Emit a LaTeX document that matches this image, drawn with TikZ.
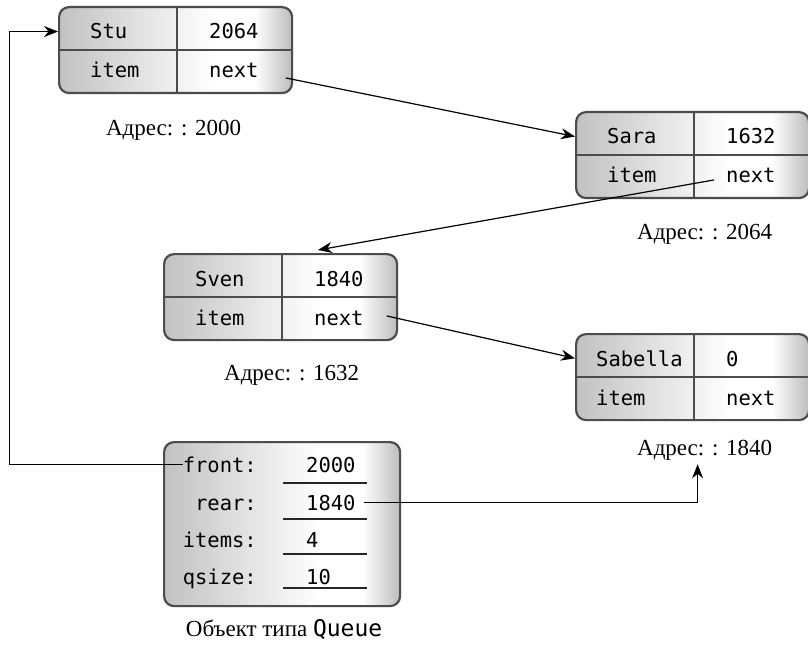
\documentclass[tikz,border=0pt]{standalone}
\usepackage{fontspec}
\setmainfont{Liberation Serif}
\setmonofont{DejaVu Sans Mono}
\usetikzlibrary{arrows.meta,positioning,calc}
\pgfdeclarehorizontalshading{recshade}{100bp}{color(0bp)=(black!24); color(25bp)=(black!24); color(58bp)=(white); color(67bp)=(white); color(75bp)=(black!26); color(100bp)=(black!26)}
% one list record: name, x, y, item text, next text, indent
\newcommand{\listrec}[6]{%
  \node[recbox,anchor=north west] (#1) at (#2,#3) {};
  \draw[recline] ($(#1.north west)+(119,0)$) -- ($(#1.south west)+(119,0)$);
  \draw[recline] (#1.west) -- (#1.east);
  \node[mono,anchor=base west] (#1-nm) at ($(#1.north west)+(#6,33)$) {#4};
  \node[mono,anchor=base west] (#1-val) at ($(#1.north west)+(151,33)$) {#5};
  \node[mono,anchor=base west] (#1-it) at ($(#1.north west)+(#6,72)$) {item};
  \node[mono,anchor=base west] (#1-nx) at ($(#1.north west)+(151,72)$) {next};
}

\begin{document}
\begin{tikzpicture}[
  x=1pt,y=-1pt,
  recbox/.style={shade,shading=recshade,draw=black!70,line width=2.2pt,rounded corners=10pt,
    minimum width=233pt,minimum height=86pt,inner sep=0pt},
  recline/.style={draw=black!70,line width=2.2pt},
  mono/.style={font=\fontsize{20.5}{24}\selectfont\ttfamily,inner sep=0pt},
  addr/.style={font=\fontsize{23}{27}\selectfont,inner sep=0pt,anchor=base},
  uline/.style={line width=1.6pt,black!85},
  link/.style={-{Stealth[length=14pt,width=11pt]},line width=1.2pt}]
\fill[white] (0,0) rectangle (808,647);
\useasboundingbox (0,0) rectangle (808,647);
% list records
\listrec{stu}{58}{6}{Stu}{2064}{32}
\listrec{sara}{575}{111}{Sara}{1632}{32}
\listrec{sven}{163}{253}{Sven}{1840}{32}
\listrec{sab}{575}{333}{Sabella}{0}{21}
\node[addr] (stu-adr) at ($(stu.south)+(-2,41)$) {Адрес: : 2000};
\node[addr] (sara-adr) at ($(sara.south)+(12,40)$) {Адрес: : 2064};
\node[addr] (sven-adr) at ($(sven.south)+(11,39)$) {Адрес: : 1632};
\node[addr] (sab-adr) at ($(sab.south)+(12,34)$) {Адрес: : 1840};
% queue object
\node[recbox,anchor=north west,minimum width=236pt,minimum height=164pt] (queue) at (163,441) {};
\foreach \lab/\val/\yb/\yl/\nm in {front:/2000/472/483/fr, rear:/1840/510/519/re,
    items:/4/547/554/it, qsize:/10/584/588/qs} {
  \node[mono,anchor=base east] (q-\nm) at (257,\yb) {\lab};
  \node[mono,anchor=base west] (q-\nm-v) at (306,\yb) {\val};
  \draw[uline] (q-\nm-v.west |- 0,\yl) ++(-23,0) -- ++(84,0);
}
\node[addr] (q-adr) at ($(queue.south)+(2,29)$) {Объект типа \texttt{Queue}};
% links
\draw[link] ($(stu-nx.east)+(27,7)$) -- (sara.west |- sara-nm);
\draw[link] ($(sara-nx.west)+(-12,4)$) -- ($(sven.north west)+(155,-3)$);
\draw[link] ($(sven-nx.east)+(23,-2)$) -- (sab.west |- sab-nm);
\draw[link] (q-fr.west) -- ++(-173,0) |- (stu.west |- stu-nm);
\draw[link] ($(q-re-v.east)+(8,0)$) -| ($(sab-adr.south)+(-7,4)$);
\end{tikzpicture}
\end{document}
